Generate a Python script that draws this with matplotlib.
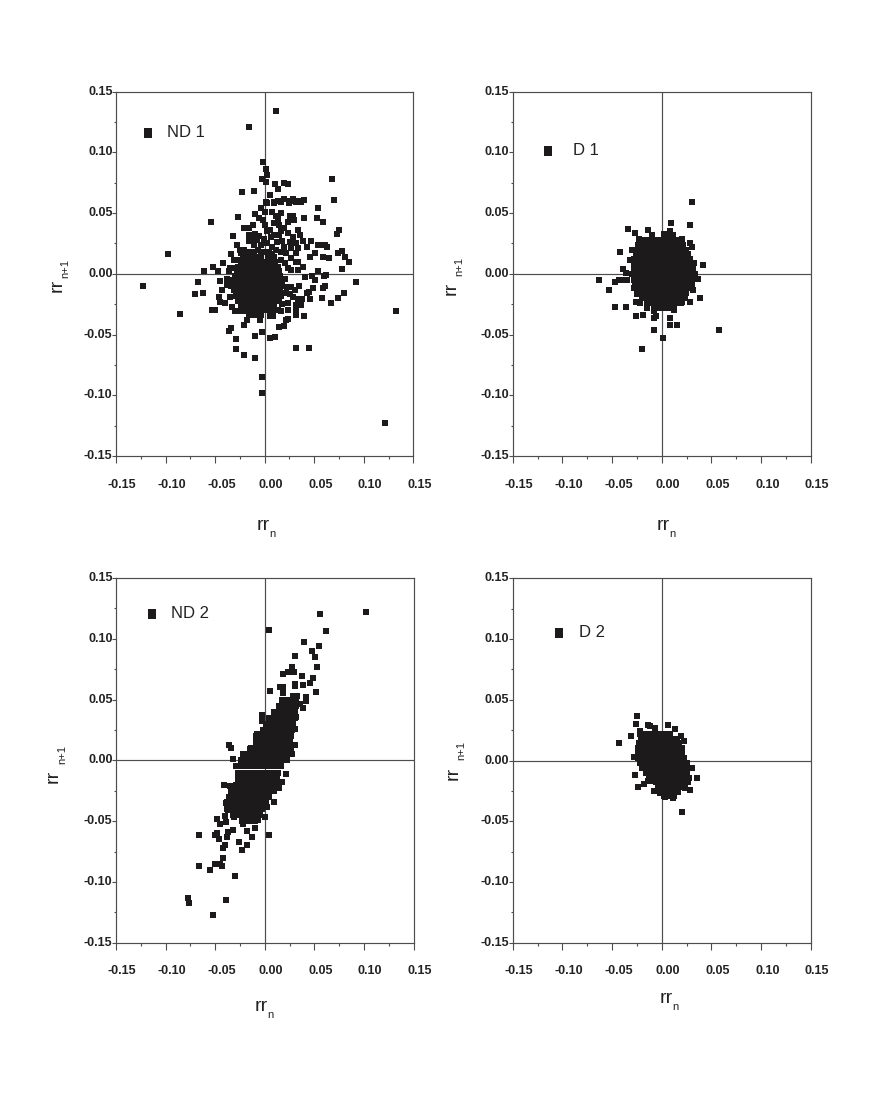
import matplotlib
matplotlib.use("Agg")
import matplotlib.pyplot as plt
from matplotlib.path import Path
from matplotlib.transforms import ScaledTranslation

plt.rcParams['font.family'] = ['Liberation Sans', 'DejaVu Sans']

W, H = 872, 1100

# ---------- data, all in thousandths of the axis unit (rr_n, rr_n+1) ----------
ND1_points = [
 (11,134),(-16,121),(-2,92),(1,86),(2,81),(-3,78),(1,76),(68,78),(70,61),(-23,67),(-11,68),(10,74),(13,70),(20,75),(24,74),
 (5,65),(1,59),(9,59),(13,60),(16,60),(20,62),(26,60),(29,62),(33,60),(36,60),(40,61),(-54,43),(-27,47),(54,54),(53,46),(59,43),
 (40,46),(-98,16),(-123,-10),(-85,-33),(133,-31),(121,-123),(-3,-85),(-3,-98),(92,-7),(-10,-69),(-21,-67),(-29,-62),(-29,-54),
 (-36,-47),(-34,-45),(32,-61),(45,-61),(5,-53),(10,-52),(-3,-48),(-10,-51),
 (-21,38),(-16,38),(-12,40),(-32,31),(-28,24),(-25,20),(-34,16),(-42,9),(-52,6),(-61,2),(-67,-7),(-70,-17),(-62,-16),(-46,-19),
 (-45,-23),(-53,-30),(-50,-30),(-47,2),(-45,-6),(-43,-13),(-40,-24),(-35,-19),(-33,-27),(-30,-31),(-21,-42),(-18,-38),(14,-44),
 (20,-43),(22,-38),(24,-37),(32,-34),(40,-35),(32,-30),(37,-26),(46,-21),(58,-20),(67,-24),(74,-20),(80,-16),(78,4),(85,10),
 (81,14),(78,19),(74,17),(73,33),(75,36),(61,24),(59,24),(63,22),(54,24),(47,27),(39,27),(43,22),(51,17),(46,14),(59,14),(65,13),
 (39,6),(34,10),(54,2),(62,-1),(60,-2),(48,-2),(51,-5),(41,-3),(61,-10),(59,-12),(49,-12),(43,-16),(45,-15),(35,-10),(27,-11),
 (31,-13),(23,-11),(26,-17),(29,-19),(34,-21),(38,-21),(32,-26),(24,-24),(24,-30),(17,-31),(13,-30),(7,-31),(4,-30),(5,-35),
 (8,-35),(-5,-38),(-10,-34),(-16,-34),(-21,-31),(24,43),(26,48),(29,48),(30,44),(11,48),(7,51),(16,50),(0,51),(-10,49),(-4,54),
 (-6,46),(2,58),(9,58),(16,59),(25,58),(32,59),(37,59),(9,42),(14,40),(0,40),(5,36),(2,35),(17,35),(24,34),(34,36),(36,32),
 (-10,33),(-6,31),(-16,32),(-16,27),(-1,29),(9,32),(14,32),(18,27),(26,26),(32,25),(34,21),(27,21),(16,18),(7,22),(-4,24),(2,25),
 (-11,24),(-21,20),(-24,17),(-15,18),(7,16),(16,11),(22,17),(32,17),(27,13),(32,10),(21,9),(24,5),(27,3),(34,3),(21,-4),(-31,11),
 (-35,5),(-30,5),(-38,-4),(-36,2),(-38,-9),(-25,5),(-31,-13),
 (-8,28),(-2,44),(6,30),(12,26),(-7,20),(-2,18),(11,20),(20,22),(29,30),(20,38),(13,45),(-13,29),(4,18),(22,-16),(18,-25),(-25,-31),
 (-33,-5),(-34,-10),(-27,11),
]
ND1_core = {
 18: [-20,-15,-11,-4,2],
 14: [-22,-18,-14,-9,-4,3,9],
 10: [-24,-20,-15,-10,-5,0,5,10],
 6: [-27,-24,-19,-15,-10,-5,0,4,9,13],
 2: [-28,-22,-18,-13,-9,-4,0,5,10,14],
 -2: [-30,-25,-21,-16,-12,-7,-3,2,6,11,15],
 -6: [-30,-26,-21,-17,-12,-8,-3,1,6,10,15,18],
 -10: [-30,-25,-21,-16,-12,-7,-3,2,6,11,15,18],
 -14: [-29,-25,-20,-16,-11,-7,-2,2,7,11,15],
 -18: [-29,-23,-19,-14,-10,-5,-1,4,8,12,16],
 -22: [-27,-21,-16,-12,-7,-3,2,6,10,14],
 -26: [-24,-18,-13,-9,-4,0,5,9],
 -30: [-18,-13,-9,-5,0],
 -34: [-15,-8,-4],
}

D1_points = [
 (31,59),(9,42),(28,40),(-34,37),(-27,34),(-14,36),(-42,18),(42,7),(-63,-5),(-53,-13),(-47,-7),(-43,-5),(-37,-5),(-35,-5),(-39,4),
 (-36,1),(-30,20),(-47,-27),(-36,-27),(-26,-35),(-19,-34),(-8,-46),(1,-53),(-20,-62),(58,-46),(8,-42),(8,-36),(15,-42),(-8,-36),
 (-6,-35),(39,-20),(32,-13),(28,-23),(-26,-23),(-22,-24),(-15,-28),(-8,-31),(12,-30),(20,29),(28,25),(30,22),(33,9),(37,-4),
 (-23,29),(8,35),(2,33),(-32,11),(-30,0),(-28,-5),(-28,-12),(-25,-17),(23,-20),(20,-23),
]
D1_core = {
 32: [-10,3,8,11],
 28: [-22,-16,-11,-6,-1,4,9,14],
 24: [-24,-19,-14,-9,-4,1,6,11,16,21],
 20: [-24,-19,-15,-10,-6,-1,3,8,12,17,21,24],
 16: [-26,-21,-17,-12,-8,-3,1,6,10,15,19,24,26],
 12: [-28,-24,-19,-15,-10,-6,-1,3,8,12,17,21,26,28],
 8: [-28,-24,-19,-15,-10,-6,-1,3,8,12,17,21,26,30],
 4: [-28,-24,-19,-15,-10,-6,-1,3,8,12,17,21,26,30,32],
 0: [-28,-24,-19,-15,-10,-6,-1,3,8,12,17,21,26,30,34],
 -4: [-27,-23,-18,-14,-9,-5,0,4,9,13,18,22,27,31,34],
 -8: [-27,-23,-18,-14,-9,-5,0,4,9,13,18,22,27,30],
 -12: [-25,-20,-16,-11,-7,-2,2,7,11,16,20,25,26],
 -16: [-24,-20,-15,-11,-6,-2,3,7,12,16,21,24],
 -20: [-20,-16,-11,-7,-2,2,7,11,16,20,22],
 -24: [-15,-11,-6,-2,3,7,12,16,19],
 -28: [-8,-4,1,5,10,12],
}

ND2_points = [
 (56,120),(102,122),(4,107),(62,106),(40,97),(55,94),(48,90),(51,85),(31,86),(53,77),(27,77),(23,73),(29,73),(18,71),(38,69),
 (49,68),(46,64),(39,62),(30,63),(52,56),(5,57),(15,60),(18,60),(18,55),(42,52),(42,49),(39,43),(30,61),(33,53),(28,53),(36,46),
 (32,36),(30,26),(30,13),(27,5),(22,0),(21,-11),(17,-18),(14,-23),(9,-34),(2,-38),(0,-47),(4,-61),(-13,-63),(-18,-70),(-23,-74),
 (-26,-67),(-30,-95),(-39,-115),(-52,-127),(-77,-113),(-76,-117),(-66,-87),(-55,-90),(-50,-85),(-45,-85),(-43,-87),(-42,-80),
 (-42,-72),(-40,-70),(-46,-65),(-50,-61),(-48,-60),(-66,-61),(-38,-63),(-37,-59),(-48,-48),(-45,-52),(-39,-51),(-40,-46),(-32,-57),
 (-36,13),(-34,10),(-32,1),(-41,-20),(-35,-21),(-38,-34),(-37,-41),(-31,-47),(-22,-52),(-18,-58),(-10,-56),(-7,-49),(-22,5),(-15,9),
 (-8,22),(-3,37),(-3,32),
]
ND2_core = {
 50: [17,22,27,32],
 45: [14,18,23,27,32],
 40: [9,14,18,23,27,31],
 35: [4,9,13,18,22,27,30],
 30: [1,5,10,14,19,23,28],
 25: [-2,2,7,11,16,20,25,27],
 20: [-9,-4,0,5,9,14,18,23,26],
 15: [-9,-5,0,4,9,13,18,22,25],
 10: [-14,-10,-5,-1,4,8,13,17,22,26],
 5: [-19,-15,-10,-6,-1,3,8,12,17,21,26],
 0: [-24,-20,-15,-11,-6,-2,3,7,12,16,21],
 -5: [-29,-25,-20,-16,-11,-7,-2,2,7,11,16],
 -10: [-27,-23,-18,-14,-9,-5,0,4,9,13],
 -15: [-27,-23,-18,-14,-9,-5,0,4,9,12],
 -20: [-29,-25,-20,-16,-11,-7,-2,2,7,11],
 -25: [-34,-30,-25,-21,-16,-12,-7,-3,2,6,9],
 -30: [-36,-32,-27,-23,-18,-14,-9,-5,0,4],
 -35: [-39,-35,-30,-26,-21,-17,-12,-8,-3,1],
 -40: [-38,-34,-29,-25,-20,-16,-11,-7,-3],
 -45: [-32,-28,-23,-19,-14,-10,-5],
 -50: [-23,-19,-14,-10],
}

D2_points = [
 (-25,37),(-26,30),(-43,14),(-31,20),(-14,29),(-12,28),(-7,27),(6,29),(13,26),(19,20),(22,16),(-22,24),(-27,-12),(-24,-22),(-18,-19),
 (-14,-17),(-8,-17),(-8,-25),(20,-42),(36,-14),(30,-6),(28,-24),(23,-23),(27,-14),(26,-18),(11,-31),(3,-30),(-2,-27),(25,-2),
 (-28,3),(-25,3),(-23,13),(-22,22),
]
D2_core = {
 22: [-19,-14,-10,-5,0,5,8],
 18: [-21,-17,-12,-8,-3,1,6,10,15],
 14: [-23,-18,-14,-9,-5,0,4,9,13,17],
 10: [-24,-20,-15,-11,-6,-2,3,7,12,16,20],
 6: [-24,-19,-15,-10,-6,-1,3,8,12,17,20],
 2: [-24,-20,-15,-11,-6,-2,3,7,12,16,21,22],
 -2: [-22,-18,-13,-9,-4,0,5,9,14,18,23,24],
 -6: [-20,-16,-11,-7,-2,2,7,11,16,20,25],
 -10: [-16,-12,-7,-3,2,6,11,15,20,25],
 -14: [-13,-9,-4,0,5,9,14,19,24],
 -18: [-6,-2,3,7,12,16,21,24],
 -22: [-4,0,5,9,14,18,21],
 -26: [-2,2,7,11,16],
 -29: [2,6,10,12],
}

ticks_major = [-0.15, -0.10, -0.05, 0.00, 0.05, 0.10, 0.15]
ticks_minor = [-0.125, -0.075, -0.025, 0.025, 0.075, 0.125]
tick_labels = ['-0.15', '-0.10', '-0.05', '0.00', '0.05', '0.10', '0.15']

panels = [
 dict(name='ND 1', points=ND1_points, core=ND1_core, box=(116, 413.3, 91.7, 456), key=(-118, 116.3), text=(167, 132.7),
      xl=(257, 530), yl=(57, 285), ys=(65, 268)),
 dict(name='D 1', points=D1_points, core=D1_core, box=(512.7, 810.7, 91.7, 456), key=(-114, 101.5), text=(573, 150.3),
      xl=(657, 530), yl=(451, 288), ys=(459.5, 267)),
 dict(name='ND 2', points=ND2_points, core=ND2_core, box=(116, 413.5, 578, 942.7), key=(-114, 120.5), text=(171, 614),
      xl=(255, 1011), yl=(53, 776), ys=(62, 755)),
 dict(name='D 2', points=D2_points, core=D2_core, box=(512.7, 810.7, 578.3, 942.7), key=(-103, 105), text=(579, 632.7),
      xl=(660, 1003), yl=(453, 773), ys=(461.5, 751)),
]

line_col = '#4d4d4d'
mark_col = '#1c1a1b'
text_col = '#222222'
rect = Path([(-0.4, -0.5), (0.4, -0.5), (0.4, 0.5), (-0.4, 0.5), (-0.4, -0.5)], closed=True)

fig = plt.figure(figsize=(W / 100, H / 100), dpi=100, facecolor='white')


def ftext(px, py, s, **kw):
    fig.text(px / W, 1 - py / H, s, color=text_col, **kw)


for p in panels:
    L, R, T, B = p['box']
    ax = fig.add_axes([L / W, 1 - B / H, (R - L) / W, (B - T) / H])
    ax.set_xlim(-0.15, 0.15)
    ax.set_ylim(-0.15, 0.15)
    ax.axhline(0, color=line_col, lw=0.85, zorder=1)
    ax.axvline(0, color=line_col, lw=0.85, zorder=1)

    xs = [a / 1000 for a, b in p['points']]
    ys = [b / 1000 for a, b in p['points']]
    for yv, row in p['core'].items():
        xs += [a / 1000 for a in row]
        ys += [yv / 1000] * len(row)
    ax.scatter(xs, ys, s=21, marker=rect, color=mark_col, linewidths=0, zorder=3)
    ax.scatter([p['key'][0] / 1000], [p['key'][1] / 1000], s=62, marker=rect, color=mark_col, linewidths=0, zorder=3)

    for sp in ax.spines.values():
        sp.set_color(line_col)
        sp.set_linewidth(0.85)

    ax.set_xticks(ticks_major)
    ax.set_xticklabels(tick_labels)
    ax.set_yticks(ticks_major)
    ax.set_yticklabels(tick_labels)
    ax.set_xticks(ticks_minor, minor=True)
    ax.set_yticks(ticks_minor, minor=True)
    ax.tick_params(axis='x', which='major', length=4.7, width=0.8, color=line_col, pad=11.5, labelsize=9, labelcolor=text_col)
    ax.tick_params(axis='x', which='minor', length=2.5, width=0.8, color=line_col)
    ax.tick_params(axis='y', which='major', length=3, width=0.8, color=line_col, pad=-0.5, labelsize=9, labelcolor=text_col)
    ax.tick_params(axis='y', which='minor', length=1.8, width=0.8, color=line_col)
    for lab in ax.get_xticklabels():
        lab.set_fontweight('bold')
        lab.set_transform(lab.get_transform() + ScaledTranslation(6.3 / 100, 0, fig.dpi_scale_trans))
    for lab in ax.get_yticklabels():
        lab.set_fontweight('bold')
        lab.set_transform(lab.get_transform() + ScaledTranslation(0, 1.5 / 100, fig.dpi_scale_trans))

    ftext(p['text'][0], p['text'][1], p['name'], fontsize=12, ha='left', va='center')

    xl, xb = p['xl']
    ftext(xl, xb, 'rr', fontsize=14, ha='left', va='baseline')
    ftext(xl + 12, xb + 7, 'n', fontsize=8, ha='left', va='baseline')
    ftext(p['yl'][0], p['yl'][1], 'rr', fontsize=14, rotation=90, ha='center', va='center')
    ftext(p['ys'][0], p['ys'][1], 'n+1', fontsize=8, rotation=90, ha='center', va='center')

fig.savefig('out.png', dpi=100)
